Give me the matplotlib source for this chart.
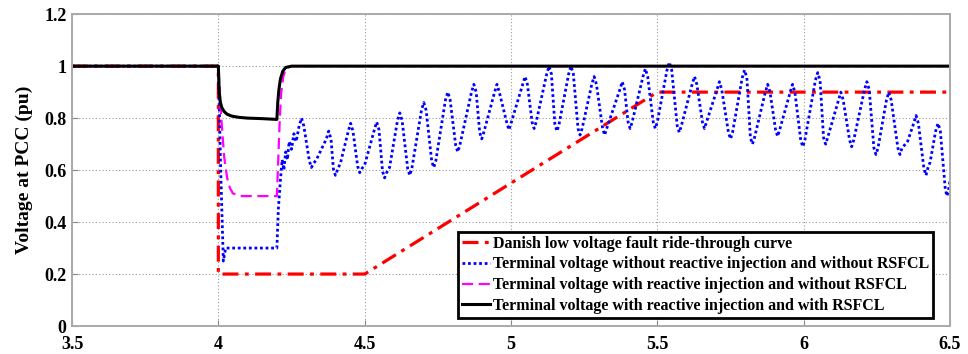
import numpy as np
import matplotlib.pyplot as plt

# time axis (s) and voltage at PCC (pu)
# Danish LVRT requirement curve
lvrt_t = [3.5, 4.0, 4.0, 4.5, 5.5, 6.5]
lvrt_v = [1.0, 1.0, 0.2, 0.2, 0.9, 0.9]

# without reactive injection, without RSFCL
noinj_t = [3.5, 4.0, 4.008, 4.017, 4.025, 4.2, 4.205, 4.212, 4.218, 4.224, 4.23, 4.236,
           4.242, 4.25, 4.258, 4.266,
           4.276, 4.284, 4.292,
           4.311, 4.318, 4.325, 4.335,
           4.369, 4.377, 4.385,
           4.393, 4.400, 4.407, 4.418,
           4.444, 4.452, 4.460,
           4.476, 4.483, 4.490, 4.500,
           4.533, 4.541, 4.549,
           4.561, 4.568, 4.575, 4.585,
           4.612, 4.620, 4.628,
           4.647, 4.654, 4.661,
           4.694, 4.702, 4.710,
           4.729, 4.736, 4.743,
           4.776, 4.784, 4.792,
           4.811, 4.818, 4.825,
           4.865, 4.873, 4.881,
           4.893, 4.900, 4.907,
           4.944, 4.952, 4.960,
           4.986, 4.993, 5.000,
           5.040, 5.048, 5.056,
           5.072, 5.079, 5.086,
           5.122, 5.130, 5.138,
           5.150, 5.157, 5.164,
           5.197, 5.205, 5.213,
           5.229, 5.236, 5.243,
           5.276, 5.284, 5.292,
           5.313, 5.320, 5.327,
           5.372, 5.380, 5.388,
           5.400, 5.407, 5.414,
           5.451, 5.459, 5.467,
           5.486, 5.493, 5.500,
           5.533, 5.541, 5.549,
           5.568, 5.575, 5.582,
           5.619, 5.627, 5.635,
           5.654, 5.661, 5.668,
           5.704, 5.712, 5.720,
           5.743, 5.750, 5.757,
           5.790, 5.798, 5.806,
           5.818, 5.825, 5.832,
           5.869, 5.877, 5.885,
           5.904, 5.911, 5.918,
           5.954, 5.962, 5.970,
           5.990, 5.997, 6.004,
           6.040, 6.048, 6.056,
           6.068, 6.075, 6.082,
           6.119, 6.127, 6.135,
           6.157, 6.164, 6.171,
           6.208, 6.216, 6.224,
           6.240, 6.247, 6.254,
           6.283, 6.291, 6.299,
           6.322, 6.329, 6.336, 6.355,
           6.376, 6.384, 6.392,
           6.411, 6.418, 6.425, 6.432,
           6.451, 6.459, 6.467,
           6.484, 6.490, 6.496, 6.500]
noinj_v = [1.0, 1.0, 0.6, 0.25, 0.3, 0.3, 0.45, 0.56, 0.64, 0.6, 0.67, 0.64,
           0.71, 0.68, 0.74, 0.71,
           0.77, 0.80, 0.77,
           0.635, 0.61, 0.625, 0.64,
           0.72, 0.75, 0.72,
           0.605, 0.58, 0.60, 0.63,
           0.75, 0.78, 0.75,
           0.615, 0.59, 0.605, 0.62,
           0.755, 0.785, 0.755,
           0.595, 0.57, 0.59, 0.61,
           0.79, 0.82, 0.79,
           0.605, 0.58, 0.605,
           0.83, 0.86, 0.83,
           0.635, 0.61, 0.635,
           0.87, 0.90, 0.87,
           0.695, 0.67, 0.695,
           0.90, 0.93, 0.90,
           0.745, 0.72, 0.745,
           0.90, 0.93, 0.90,
           0.78, 0.755, 0.78,
           0.93, 0.96, 0.93,
           0.785, 0.76, 0.785,
           0.97, 1.00, 0.97,
           0.775, 0.75, 0.775,
           0.97, 1.00, 0.97,
           0.76, 0.735, 0.76,
           0.93, 0.96, 0.93,
           0.76, 0.735, 0.76,
           0.91, 0.94, 0.91,
           0.785, 0.76, 0.785,
           0.96, 0.99, 0.96,
           0.785, 0.76, 0.785,
           0.985, 1.015, 0.985,
           0.77, 0.745, 0.77,
           0.93, 0.96, 0.93,
           0.785, 0.76, 0.785,
           0.91, 0.94, 0.91,
           0.745, 0.72, 0.745,
           0.955, 0.985, 0.955,
           0.725, 0.70, 0.725,
           0.90, 0.93, 0.90,
           0.755, 0.73, 0.755,
           0.90, 0.93, 0.90,
           0.715, 0.69, 0.715,
           0.945, 0.975, 0.945,
           0.725, 0.70, 0.725,
           0.87, 0.90, 0.87,
           0.715, 0.69, 0.715,
           0.91, 0.94, 0.91,
           0.685, 0.66, 0.685,
           0.87, 0.90, 0.87,
           0.685, 0.66, 0.685, 0.71,
           0.78, 0.81, 0.78,
           0.605, 0.58, 0.61, 0.63,
           0.75, 0.78, 0.75,
           0.525, 0.50, 0.53, 0.56]

# with reactive injection, without RSFCL
inj_t = [3.5, 4.0, 4.005, 4.01, 4.02, 4.03, 4.04, 4.05, 4.08, 4.2, 4.205, 4.21,
         4.215, 4.222, 4.23, 4.25, 6.5]
inj_v = [1.0, 1.0, 0.9, 0.8, 0.65, 0.57, 0.53, 0.51, 0.5, 0.5, 0.65, 0.8,
         0.9, 0.96, 0.99, 1.0, 1.0]

# with reactive injection and RSFCL
fcl_t = [3.5, 4.0, 4.003, 4.007, 4.012, 4.02, 4.03, 4.045, 4.07, 4.1, 4.15, 4.2,
         4.203, 4.207, 4.212, 4.22, 4.23, 4.25, 6.5]
fcl_v = [1.0, 1.0, 0.9, 0.86, 0.84, 0.825, 0.815, 0.808, 0.803, 0.8, 0.798, 0.795,
         0.86, 0.91, 0.95, 0.98, 0.995, 1.0, 1.0]

labels = ['Danish low voltage fault ride-through curve',
          'Terminal voltage without reactive injection and without RSFCL',
          'Terminal voltage with reactive injection and without RSFCL',
          'Terminal voltage with reactive injection and with RSFCL']

plt.rcParams['font.family'] = 'Liberation Serif'
plt.rcParams['font.weight'] = 'bold'

fig = plt.figure(figsize=(9.68, 3.54), dpi=100)
ax = fig.add_axes([0.0744, 0.079, 0.907, 0.881])

ax.plot(lvrt_t, lvrt_v, color='red', ls=(0, (5, 2, 1.2, 2)), lw=2.3, label=labels[0])
ax.plot(noinj_t, noinj_v, color='blue', ls=(0, (1, 1)), lw=2.0, label=labels[1])
ax.plot(inj_t, inj_v, color='magenta', ls=(0, (5, 2.5)), lw=1.6, label=labels[2])
ax.plot(fcl_t, fcl_v, color='black', ls='-', lw=2.2, label=labels[3])

ax.set_xlim(3.5, 6.5)
ax.set_ylim(0, 1.2)
ax.set_xticks([3.5, 4, 4.5, 5, 5.5, 6, 6.5])
ax.set_xticklabels(['3.5', '4', '4.5', '5', '5.5', '6', '6.5'])
ax.set_yticks([0, 0.2, 0.4, 0.6, 0.8, 1.0, 1.2])
ax.set_yticklabels(['0', '0.2', '0.4', '0.6', '0.8', '1', '1.2'])
ax.tick_params(direction='in', labelsize=13, length=4, color='#888888')
ax.tick_params(axis='x', pad=7)
ax.tick_params(axis='y', pad=4)
for lab in ax.get_xticklabels() + ax.get_yticklabels():
    lab.set_fontweight('bold')
ax.grid(True, color='#999999', ls=(0, (1, 2)), lw=0.8)
for sp in ax.spines.values():
    sp.set_color('#aaaaaa')
    sp.set_linewidth(1.4)

ax.set_ylabel('Voltage at PCC (pu)', fontsize=14, fontweight='bold', labelpad=8)

leg = ax.legend(loc='lower right', bbox_to_anchor=(0.981, 0.026),
                prop={'weight': 'bold', 'size': 11.5}, fancybox=False,
                handlelength=1.75, handletextpad=0.2, borderpad=0.25,
                labelspacing=0.3, borderaxespad=0, framealpha=1)
leg.get_frame().set_edgecolor('black')
leg.get_frame().set_linewidth(2.0)

fig.savefig('out.png', dpi=100)
